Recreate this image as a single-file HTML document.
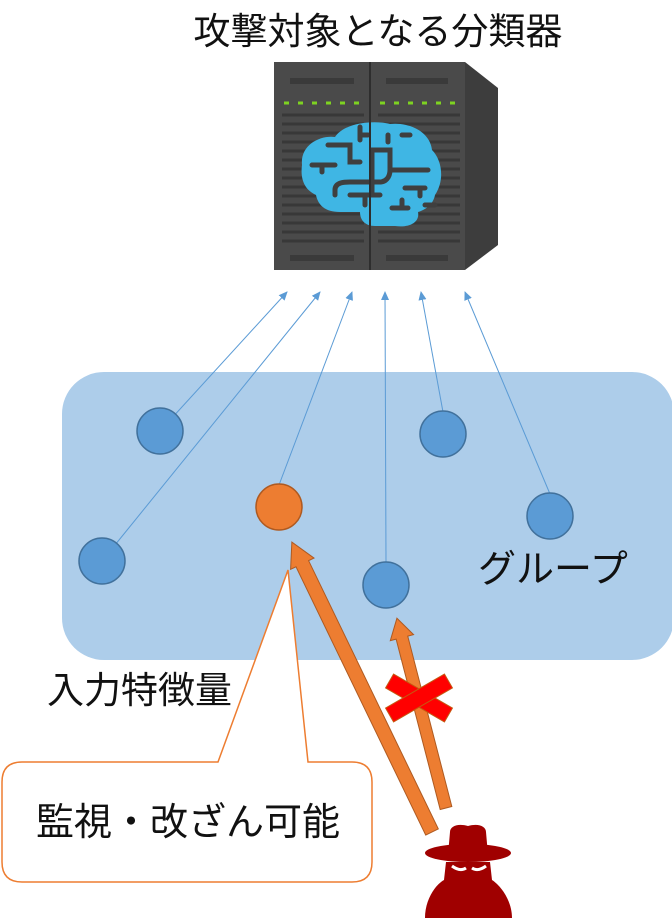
<!DOCTYPE html>
<html><head><meta charset="utf-8"><style>
body{margin:0;background:#fff;}
svg{display:block}
text{font-family:"Liberation Sans","Noto Sans CJK JP",sans-serif;fill:#111}
</style></head><body>
<svg width="672" height="918" viewBox="0 0 672 918">
<defs>
<marker id="ah" markerWidth="10" markerHeight="10" refX="8" refY="5" orient="auto" markerUnits="userSpaceOnUse">
<path d="M0,1 L9,5 L0,9 Z" fill="#5b9bd5"/></marker>
</defs>
<text x="378" y="44" font-size="37" text-anchor="middle">攻撃対象となる分類器</text>
<!-- server -->
<polygon points="465,62 498,88 498,245 465,270" fill="#3d3d3d"/>
<rect x="274" y="62" width="96" height="208" fill="#4a4a4a"/>
<rect x="371" y="62" width="94" height="208" fill="#4a4a4a"/>
<g fill="#3a3a3a">
<rect x="290" y="78" width="64" height="6"/><rect x="386" y="78" width="62" height="6"/>
<rect x="290" y="255" width="64" height="6"/><rect x="386" y="255" width="62" height="6"/>
</g>
<g stroke="#7ed321" stroke-width="3" stroke-dasharray="5,9">
<line x1="284" y1="103" x2="364" y2="103"/><line x1="380" y1="103" x2="460" y2="103"/>
</g>
<g stroke="#383838" stroke-width="3">
<line x1="282" y1="115" x2="364" y2="115"/><line x1="282" y1="124" x2="364" y2="124"/><line x1="282" y1="133" x2="364" y2="133"/><line x1="282" y1="142" x2="364" y2="142"/><line x1="282" y1="151" x2="364" y2="151"/><line x1="282" y1="160" x2="364" y2="160"/><line x1="282" y1="169" x2="364" y2="169"/><line x1="282" y1="178" x2="364" y2="178"/><line x1="282" y1="187" x2="364" y2="187"/><line x1="282" y1="196" x2="364" y2="196"/><line x1="282" y1="205" x2="364" y2="205"/><line x1="282" y1="214" x2="364" y2="214"/><line x1="282" y1="223" x2="364" y2="223"/><line x1="282" y1="232" x2="364" y2="232"/><line x1="282" y1="241" x2="364" y2="241"/>
<line x1="378" y1="115" x2="460" y2="115"/><line x1="378" y1="124" x2="460" y2="124"/><line x1="378" y1="133" x2="460" y2="133"/><line x1="378" y1="142" x2="460" y2="142"/><line x1="378" y1="151" x2="460" y2="151"/><line x1="378" y1="160" x2="460" y2="160"/><line x1="378" y1="169" x2="460" y2="169"/><line x1="378" y1="178" x2="460" y2="178"/><line x1="378" y1="187" x2="460" y2="187"/><line x1="378" y1="196" x2="460" y2="196"/><line x1="378" y1="205" x2="460" y2="205"/><line x1="378" y1="214" x2="460" y2="214"/><line x1="378" y1="223" x2="460" y2="223"/><line x1="378" y1="232" x2="460" y2="232"/><line x1="378" y1="241" x2="460" y2="241"/>
</g>
<!-- brain -->
<path d="M302,165 C300,145 320,135 335,137 C345,122 375,120 390,124 C410,122 430,132 432,150 C442,160 445,180 435,195 C433,205 425,210 418,212 C420,222 410,228 395,226 L375,226 C365,226 360,220 360,212 L340,212 C325,212 318,205 316,195 C305,190 300,180 302,165 Z" fill="#3fb6e4"/>
<g stroke="#3f3f3f" stroke-width="5" stroke-linecap="round" fill="none">
<path d="M328,145 H350 V162 H360"/><path d="M312,165 H335 M322,165 V172"/><path d="M360,127 V140 M360,135 H368"/>
<path d="M372,195 V150 H390 V170 H428"/><path d="M388,135 V142"/><path d="M402,135 H410"/>
<path d="M335,195 V190 C335,182 345,182 350,182 H380 C385,182 390,178 390,170"/>
<path d="M350,195 H380 M365,195 V205"/><path d="M405,188 H425 M420,188 V196"/><path d="M392,208 H408 M402,200 V208"/><path d="M425,205 H435"/>
</g>
<line x1="370" y1="62" x2="370" y2="270" stroke="#2e2e2e" stroke-width="2"/>
<!-- group box -->
<rect x="62" y="372" width="612" height="288" rx="42" fill="#adcdea"/>
<!-- lines -->
<g stroke="#5b9bd5" stroke-width="1" marker-end="url(#ah)">
<line x1="160" y1="431" x2="287" y2="292"/>
<line x1="102" y1="561" x2="320" y2="292"/>
<line x1="279" y1="485" x2="352" y2="292"/>
<line x1="386" y1="562" x2="385" y2="292"/>
<line x1="443" y1="412" x2="421" y2="292"/>
<line x1="550" y1="494" x2="465" y2="292"/>
</g>
<g fill="#5b9bd5" stroke="#41719c" stroke-width="1.5">
<circle cx="160" cy="431" r="23"/><circle cx="102" cy="561" r="23"/><circle cx="443" cy="434" r="23"/><circle cx="550" cy="516" r="23"/><circle cx="386" cy="585" r="23"/>
</g>
<circle cx="279" cy="507" r="23" fill="#ed7d31" stroke="#ae5a21" stroke-width="1.5"/>
<text x="478" y="582" font-size="38">グループ</text>
<text x="47" y="703" font-size="37">入力特徴量</text>
<!-- callout -->
<path d="M22,762 H218 L288,570 L308,762 H352 Q372,762 372,782 V862 Q372,882 352,882 H22 Q2,882 2,862 V782 Q2,762 22,762 Z" fill="#fff" stroke="#ed7d31" stroke-width="1.5"/>
<text x="36" y="835" font-size="38">監視・改ざん可能</text>
<!-- orange arrows -->
<g fill="#ed7d31" stroke="#ae5a21" stroke-width="1">
<path transform="translate(432,832) rotate(-25.8)" d="M-7,0 V-298 H-13 L0,-322 L13,-298 H7 V0 Z"/>
<path transform="translate(446,808) rotate(-14.5)" d="M-6,0 V-176 H-12 L0,-196 L12,-176 H6 V0 Z"/>
</g>
<!-- red X -->
<g transform="translate(419,698)" fill="#ff0000" stroke="#c55a11" stroke-width="1">
<rect x="-34" y="-8" width="68" height="16" transform="rotate(30)"/>
<rect x="-34" y="-8" width="68" height="16" transform="rotate(-30)"/>
</g>
<!-- hacker -->
<g fill="#a00000">
<path d="M448,855 L450,832 C450,826 458,823 468,826 C478,823 486,826 486,832 L488,855 Z"/>
<ellipse cx="468" cy="853" rx="43" ry="9"/>
<path d="M446,862 H490 L492,880 C500,885 512,900 512,918 H425 C425,900 435,885 444,880 Z"/>
</g>
<path d="M452,866 Q460,872 466,868 M472,868 Q478,872 486,866" stroke="#fff" stroke-width="3" fill="none"/>
</svg>
</body></html>
